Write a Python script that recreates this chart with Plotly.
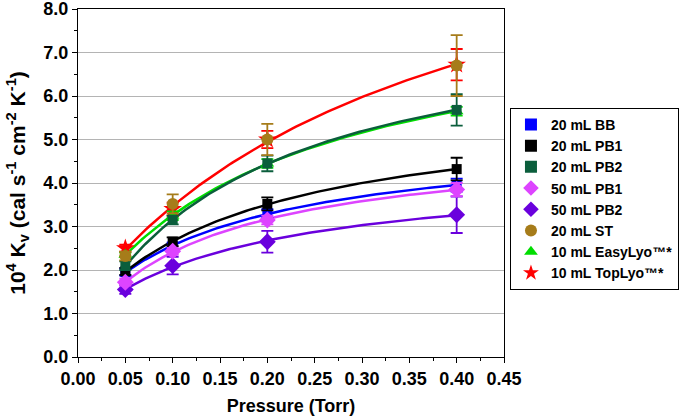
import numpy as np
import plotly.graph_objects as go

pressure = [0.05, 0.10, 0.20, 0.40]

names = ["20 mL BB", "20 mL PB1", "20 mL PB2", "50 mL PB1", "50 mL PB2",
         "20 mL ST", "10 mL EasyLyo™*", "10 mL TopLyo™*"]

kv_bb = [1.95, 2.55, 3.30, 3.95]
kv_pb1 = [1.97, 2.65, 3.52, 4.32]
kv_pb2 = [2.10, 3.15, 4.45, 5.68]
kv_50pb1 = [1.72, 2.43, 3.15, 3.85]
kv_50pb2 = [1.55, 2.10, 2.65, 3.27]
kv_st = [2.32, 3.52, 5.00, 6.70]
kv_easy = [2.35, 3.25, 4.45, 5.65]
kv_top = [2.50, 3.40, 5.00, 6.72]

err_bb = [0.08, 0.08, 0.10, 0.15]
err_pb1 = [0.08, 0.10, 0.15, 0.26]
err_pb2 = [0.10, 0.10, 0.18, 0.36]
err_50pb1 = [0.08, 0.08, 0.10, 0.15]
err_50pb2 = [0.10, 0.20, 0.25, 0.42]
err_st = [0.10, 0.22, 0.36, 0.70]
err_easy = [0.05, 0.10, 0.10, 0.10]
err_top = [0.08, 0.15, 0.20, 0.36]

series = [kv_bb, kv_pb1, kv_pb2, kv_50pb1, kv_50pb2, kv_st, kv_easy, kv_top]
errors = [err_bb, err_pb1, err_pb2, err_50pb1, err_50pb2, err_st, err_easy, err_top]
colors = ["#0000ff", "#000000", "#0b5e3c", "#dd44ff", "#6a00dd", "#a67c1a", "#00dd00", "#ff0000"]
symbols = ["square", "square", "square", "diamond", "diamond", "circle", "triangle-up", "star"]
sizes = [10, 10, 10, 13, 13, 12, 12, 14]
has_fit = [True, True, True, True, True, False, True, True]
draw_order = [7, 6, 0, 1, 2, 4, 3, 5]


def fit_curve(x, y):
    x = np.asarray(x, float)
    y = np.asarray(y, float)
    best = None
    for b in np.linspace(0, 60, 1201):
        f = x / (1 + b * x)
        A = np.vstack([np.ones_like(x), f]).T
        coef, *_ = np.linalg.lstsq(A, y, rcond=None)
        r = np.sum((A @ coef - y) ** 2)
        if best is None or r < best[0]:
            best = (r, b, coef)
    _, b, coef = best
    xs = np.linspace(x.min(), x.max(), 100)
    return xs, coef[0] + coef[1] * xs / (1 + b * xs)


fig = go.Figure()

for i in draw_order:
    if not has_fit[i]:
        continue
    xs, ys = fit_curve(pressure, series[i])
    fig.add_trace(go.Scatter(x=xs, y=ys, mode="lines", showlegend=False,
                             line=dict(color=colors[i], width=2.5), hoverinfo="skip"))

for i in draw_order:
    fig.add_trace(go.Scatter(
        x=pressure, y=series[i], mode="markers", name=names[i], legendrank=i + 1,
        marker=dict(symbol=symbols[i], size=sizes[i], color=colors[i]),
        error_y=dict(type="data", array=errors[i], color=colors[i], thickness=1.8, width=6),
    ))

font_family = "Liberation Sans, Arial, sans-serif"

fig.update_layout(
    width=685, height=417,
    margin=dict(l=78, r=181, t=9, b=60, autoexpand=False),
    plot_bgcolor="white", paper_bgcolor="white",
    font=dict(family=font_family, color="black"),
    legend=dict(x=1.014, y=0.716, xanchor="left", yanchor="top",
                bordercolor="black", borderwidth=1, bgcolor="white",
                font=dict(size=14, family=font_family, weight="bold"),
                tracegroupgap=0, itemsizing="constant", itemwidth=30),
    xaxis=dict(range=[0, 0.45], tickvals=[0, 0.05, 0.1, 0.15, 0.2, 0.25, 0.3, 0.35, 0.4, 0.45],
               tickformat=".2f", ticks="outside", ticklen=5, tickcolor="black",
               minor=dict(ticks="outside", ticklen=3, dtick=0.025, tick0=0, tickcolor="black"),
               showline=True, linecolor="black", linewidth=1, mirror=True,
               showgrid=False, zeroline=False, automargin=False, ticklabeloverflow="allow",
               tickfont=dict(size=18, family=font_family, weight="bold"),
               title=dict(text="Pressure (Torr)", standoff=11,
                          font=dict(size=18, family=font_family, weight="bold"))),
    yaxis=dict(range=[0, 8], dtick=1, tick0=0, tickformat=".1f", ticks="outside", ticklen=5,
               tickcolor="black",
               minor=dict(ticks="outside", ticklen=3, dtick=0.5, tick0=0, tickcolor="black"),
               showline=True, linecolor="black", linewidth=1, mirror=True,
               showgrid=True, gridcolor="#b4b4b4", gridwidth=1, zeroline=False, automargin=False,
               ticklabeloverflow="allow",
               tickfont=dict(size=18, family=font_family, weight="bold"),
               title=dict(text="10<sup>4</sup> K<sub>v</sub> (cal s<sup>-1</sup> cm<sup>-2</sup> K<sup>-1</sup>)",
                          standoff=12, font=dict(size=21, family=font_family, weight="bold"))),
)

fig.write_html("out.html", config={"displayModeBar": False},
               post_script="document.body.style.margin='0';document.body.style.padding='0';")
